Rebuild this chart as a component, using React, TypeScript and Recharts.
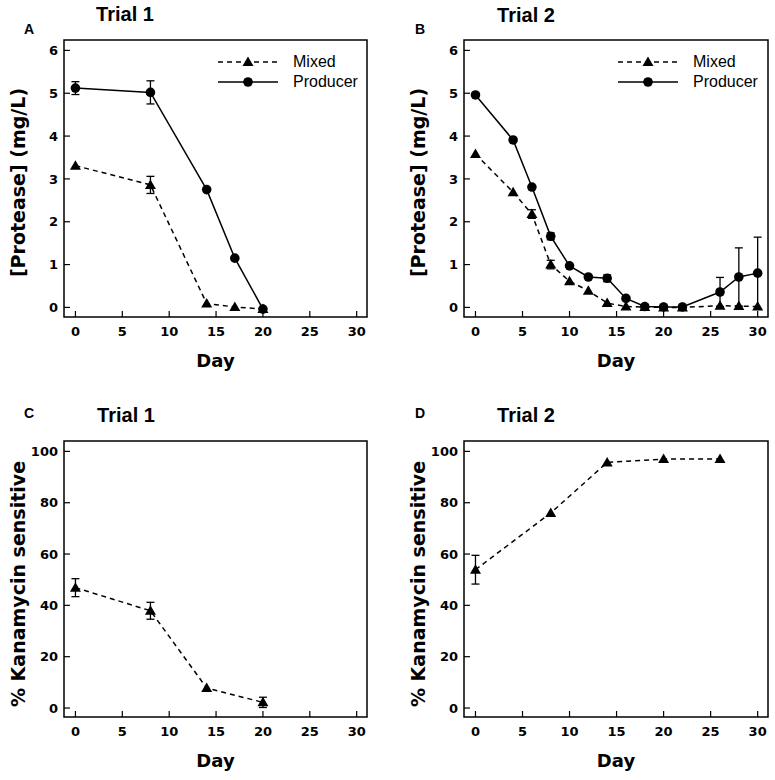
import React from 'react'
import { LineChart, Line, XAxis, YAxis, ErrorBar, ReferenceArea, Legend } from 'recharts'

// Trial 1 protease
const daysA = [0, 8, 14, 17, 20]
const mixedA = [3.31, 2.86, 0.09, 0.01, -0.04]
const mixedAErr = [null, 0.2, null, null, null]
const producerA = [5.12, 5.02, 2.75, 1.15, -0.04]
const producerAErr = [0.15, 0.27, null, null, null]

// Trial 2 protease
const daysB = [0, 4, 6, 8, 10, 12, 14, 16, 18, 20, 22, 26, 28, 30]
const mixedB = [3.58, 2.69, 2.18, 1.0, 0.61, 0.39, 0.1, 0.02, 0.01, 0.0, 0.0, 0.04, 0.03, 0.02]
const mixedBErr = [null, null, 0.1, 0.1, null, null, null, null, null, null, null, null, null, null]
const producerB = [4.96, 3.91, 2.81, 1.66, 0.97, 0.71, 0.68, 0.21, 0.02, 0.01, 0.01, 0.36, 0.71, 0.8]
const producerBErr = [null, null, null, 0.08, null, null, 0.08, null, null, null, null, 0.34, 0.68, 0.84]

// % kanamycin sensitive
const daysC = [0, 8, 14, 20]
const mixedC = [46.9, 37.9, 7.8, 2.2]
const mixedCErr = [3.5, 3.3, null, 2]
const daysD = [0, 8, 14, 20, 26]
const mixedD = [53.9, 76.0, 95.7, 97.0, 97.0]
const mixedDErr = [5.6, null, null, null, null]

const dayTicks = [0, 5, 10, 15, 20, 25, 30]
const proteaseTicks = [0, 1, 2, 3, 4, 5, 6]
const kanTicks = [0, 20, 40, 60, 80, 100]

const FONT = '"Liberation Sans", Arial, Helvetica, sans-serif'
const AXIS_FONT = '"DejaVu Sans", Verdana, sans-serif'
const X_DOMAIN: [number, number] = [-1.22, 31.1]
const PROT_DOMAIN: [number, number] = [-0.224, 6.243]
const KAN_DOMAIN: [number, number] = [-3.5, 104.05]

function rows(days: number[], mixed: number[], mixedErr: (number | null)[], prod?: number[], prodErr?: (number | null)[]) {
  return days.map((d, i) => ({
    day: d,
    mixed: mixed[i],
    mixedErr: mixedErr[i],
    producer: prod ? prod[i] : undefined,
    producerErr: prodErr ? prodErr[i] : undefined,
  }))
}

function TriangleDot(props: any) {
  const { cx, cy } = props
  if (cx == null || cy == null) return null
  return <path key={`t-${cx}-${cy}`} d={`M${cx},${cy - 5.5}L${cx + 5.5},${cy + 4}L${cx - 5.5},${cy + 4}Z`} fill="#000" />
}

function CircleDot(props: any) {
  const { cx, cy } = props
  if (cx == null || cy == null) return null
  return <circle key={`c-${cx}-${cy}`} cx={cx} cy={cy} r={4.8} fill="#000" />
}

function LegendBox(props: any) {
  const payload = props.payload || []
  return (
    <div style={{ fontFamily: FONT, fontSize: 16, color: '#000' }}>
      {payload.map((e: any) => {
        const mixed = e.value === 'Mixed'
        return (
          <div key={e.value} style={{ display: 'flex', alignItems: 'center', height: 20 }}>
            <svg width={60} height={20}>
              <line x1={0} y1={10} x2={60} y2={10} stroke="#000" strokeWidth={1.5} strokeDasharray={mixed ? '5 4' : undefined} />
              {mixed
                ? <path d="M30,4.5L35.5,14L24.5,14Z" fill="#000" />
                : <circle cx={30} cy={10} r={4.8} fill="#000" />}
            </svg>
            <span style={{ marginLeft: 15, lineHeight: '20px' }}>{e.value}</span>
          </div>
        )
      })}
    </div>
  )
}

function YLabel(text: string, shift: number) {
  return (p: any) => {
    const vb = p.viewBox || { x: 0, y: 40, width: 64, height: 277 }
    const x = vb.x + 18
    const y = vb.y + vb.height / 2 + shift
    return (
      <text x={x} y={y} transform={`rotate(-90, ${x}, ${y})`} textAnchor="middle" dominantBaseline="central"
        fontSize={19} fontWeight={700} fill="#000" fontFamily={AXIS_FONT}>
        {text}
      </text>
    )
  }
}

const tickStyle = { fill: '#000', fontSize: 13, fontWeight: 700, fontFamily: AXIS_FONT }

function Panel(props: {
  left: number; top: number; width: number; height: number; margin: any
  data: any[]; yDomain: [number, number]; yTicks: number[]; yLabel: string; labelShift: number; producer?: boolean
}) {
  const { left, top, width, height, margin, data, yDomain, yTicks, yLabel, labelShift, producer } = props
  return (
    <div style={{ position: 'absolute', left, top }}>
      <LineChart width={width} height={height} data={data} margin={margin} style={{ fontFamily: FONT }}>
        <XAxis dataKey="day" type="number" domain={X_DOMAIN} ticks={dayTicks} interval={0} allowDataOverflow
          height={55} axisLine={false} tickSize={-6} tickMargin={16} tickLine={{ stroke: '#000', strokeWidth: 1.2 }}
          tick={tickStyle}
          label={{ value: 'Day', position: 'insideBottom', offset: 5, fill: '#000', fontSize: 18, fontWeight: 700, fontFamily: AXIS_FONT }} />
        <YAxis type="number" domain={yDomain} ticks={yTicks} interval={0} allowDataOverflow
          width={64} axisLine={false} tickSize={-6} tickMargin={12} tickLine={{ stroke: '#000', strokeWidth: 1.2 }}
          tick={tickStyle} label={{ content: YLabel(yLabel, labelShift) }} />
        <ReferenceArea x1={X_DOMAIN[0]} x2={X_DOMAIN[1]} y1={yDomain[0]} y2={yDomain[1]}
          fill="none" fillOpacity={0} stroke="#000" strokeWidth={1.5} ifOverflow="visible" />
        <Line dataKey="mixed" name="Mixed" type="linear" stroke="#000" strokeWidth={1.5} strokeDasharray="5 4"
          dot={TriangleDot} activeDot={false} isAnimationActive={false}>
          <ErrorBar dataKey="mixedErr" width={4} stroke="#000" strokeWidth={1.3} direction="y" />
        </Line>
        {producer && (
          <Line dataKey="producer" name="Producer" type="linear" stroke="#000" strokeWidth={1.5}
            dot={CircleDot} activeDot={false} isAnimationActive={false}>
            <ErrorBar dataKey="producerErr" width={4} stroke="#000" strokeWidth={1.3} direction="y" />
          </Line>
        )}
        {producer && (
          <Legend layout="vertical" verticalAlign="middle" align="center" content={LegendBox}
            wrapperStyle={{ position: 'absolute', left: 218, top: 52, width: 160, height: 40 }} />
        )}
      </LineChart>
    </div>
  )
}

export default function App() {
  const topMarginA = { top: 40, right: 18, left: 0, bottom: 18 }
  const topMarginB = { top: 40, right: 7, left: 0, bottom: 18 }
  const botMarginC = { top: 41, right: 18, left: 0, bottom: 8 }
  const botMarginD = { top: 41, right: 7, left: 0, bottom: 8 }
  const title = { fontFamily: FONT, fontWeight: 700, fill: '#000' }
  return (
    <div style={{ position: 'absolute', left: 0, top: 0, width: 775, height: 780, background: '#fff' }}>
      <svg width={775} height={780} style={{ position: 'absolute', left: 0, top: 0 }}>
        <text x={125} y={21} textAnchor="middle" fontSize={20} {...title}>Trial 1</text>
        <text x={526} y={22} textAnchor="middle" fontSize={20} {...title}>Trial 2</text>
        <text x={126} y={422} textAnchor="middle" fontSize={20} {...title}>Trial 1</text>
        <text x={526} y={422} textAnchor="middle" fontSize={20} {...title}>Trial 2</text>
        <text x={24} y={34} fontSize={14} {...title}>A</text>
        <text x={415} y={34} fontSize={14} {...title}>B</text>
        <text x={24} y={418} fontSize={14} {...title}>C</text>
        <text x={415} y={418} fontSize={14} {...title}>D</text>
      </svg>
      <Panel left={0} top={0} width={385} height={390} margin={topMarginA}
        data={rows(daysA, mixedA, mixedAErr, producerA, producerAErr)}
        yDomain={PROT_DOMAIN} yTicks={proteaseTicks} yLabel="[Protease] (mg/L)" labelShift={4} producer />
      <Panel left={400} top={0} width={375} height={390} margin={topMarginB}
        data={rows(daysB, mixedB, mixedBErr, producerB, producerBErr)}
        yDomain={PROT_DOMAIN} yTicks={proteaseTicks} yLabel="[Protease] (mg/L)" labelShift={4} producer />
      <Panel left={0} top={400} width={385} height={380} margin={botMarginC}
        data={rows(daysC, mixedC, mixedCErr)}
        yDomain={KAN_DOMAIN} yTicks={kanTicks} yLabel="% Kanamycin sensitive" labelShift={5} />
      <Panel left={400} top={400} width={375} height={380} margin={botMarginD}
        data={rows(daysD, mixedD, mixedDErr)}
        yDomain={KAN_DOMAIN} yTicks={kanTicks} yLabel="% Kanamycin sensitive" labelShift={5} />
    </div>
  )
}
